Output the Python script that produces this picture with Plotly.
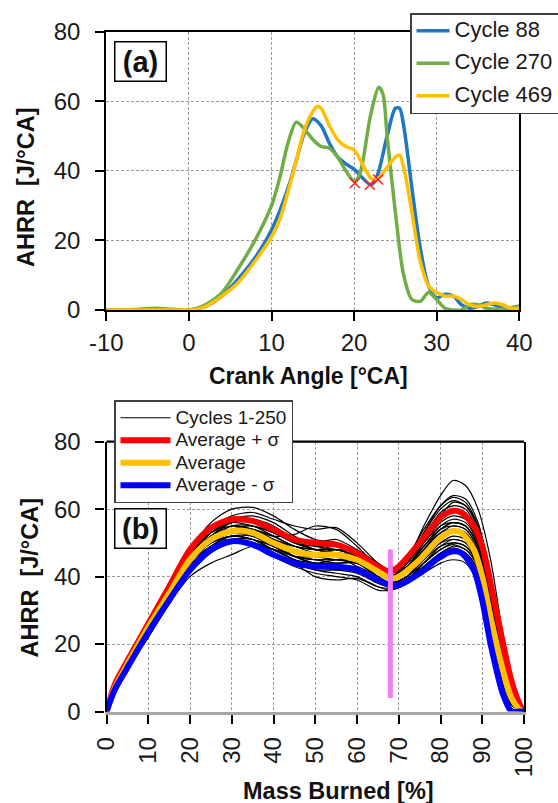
import plotly.graph_objects as go

# ---------------- Panel (a) data ----------------
c88_x = [-10, -5, 0, 1, 2, 4, 6, 8, 10, 12, 13, 14, 15, 16, 17, 18, 19, 20, 21, 22, 22.5, 23, 24, 25, 25.5, 26, 27, 28, 29, 30, 31, 32, 33, 34, 35, 36, 37, 38, 40]
c88_y = [0, 0, 0, 0.3, 1, 4, 9, 15, 23, 35, 43, 51, 55, 53, 48, 44, 42, 40.5, 38, 36, 37, 40, 50, 58, 58, 53, 35, 18, 7, 3.5, 4.5, 4, 1.5, 0.5, 1, 2, 1.5, 0.5, 0.5]

c270_x = [-10, -6, -4, -2, 0, 1, 2, 4, 6, 8, 10, 11, 12, 13, 14, 15, 16, 17, 18, 19, 20, 20.5, 21, 22, 23, 23.5, 24, 25, 26, 27, 28, 29, 30, 31, 32, 33, 34, 35, 36, 38, 40]
c270_y = [0, 0.2, 0.5, 0.2, 0, 0.5, 1.5, 5, 12, 20, 30, 38, 48, 54, 52, 49, 47, 46.5, 44, 40, 37, 38, 42, 56, 64, 62, 50, 28, 10, 3, 2.5, 5, 3, 0.5, 0, 0, 1.5, 1.5, 0.5, 0.3, 1.2]

c469_x = [-10, -5, 0, 1, 2, 4, 6, 8, 10, 11, 12, 13, 14, 15, 15.5, 16, 17, 18, 19, 20, 21, 22, 22.5, 23, 24, 25, 25.5, 26, 27, 28, 29, 30, 31, 32, 33, 34, 35, 36, 37, 38, 39, 40]
c469_y = [0, 0, 0, 0.2, 1, 4, 8, 14, 21, 26, 34, 43, 52, 57, 58.5, 58, 53, 49, 47, 46, 42, 38, 37.5, 38, 41, 44, 44.5, 41, 28, 14, 7, 5, 4, 4, 3, 1.5, 1, 1.5, 2, 1.5, 0.5, 0.5]

marks_x = [20.1, 21.9, 22.9]
marks_y = [36.5, 36.0, 37.5]

xa_ticks = [-10, 0, 10, 20, 30, 40]
xa_labels = ["-10", "0", "10", "20", "30", "40"]

# ---------------- Panel (b) data ----------------
mb_x = [0, 3, 6, 10, 15, 20, 25, 30, 35, 40, 45, 50, 55, 60, 65, 68, 72, 76, 80, 83, 86, 89, 92, 95, 97, 100]

cyc01 = [0, 10, 18, 26, 37, 48, 56, 60, 60.5, 58, 54, 51, 50, 47, 43, 41, 45, 55, 64, 68.5, 67, 60, 45, 22, 8, 0]
cyc02 = [0, 9, 16, 24, 35, 46, 54, 58, 59, 57, 55, 54, 54.5, 50, 44, 42, 45, 53, 61, 64, 63, 56, 40, 18, 5, 0]
cyc03 = [0, 10, 17, 25, 36, 47, 53, 55, 54, 52, 52.5, 55, 54, 49, 43, 41, 44, 51, 58, 62, 61, 55, 40, 18, 5, 0]
cyc04 = [0, 9, 16, 23, 33, 41, 47, 50, 50, 48, 45, 42, 41, 40, 37, 36, 38, 42, 45, 47, 46, 41, 28, 10, 2, 0]
cyc05 = [0, 8, 15, 22, 32, 40, 44, 46.5, 49, 48, 45, 43, 42, 41, 38, 37, 39, 43, 46, 48, 47, 42, 29, 11, 2, 0]
cyc06 = [0, 10, 17, 25, 35, 44, 49, 51, 50, 47, 44, 40, 39, 39.5, 37, 36.5, 38, 41, 44, 45, 44, 38, 25, 8, 1, 0]
cyc07 = [0, 10, 18, 26, 36, 46, 52, 54, 53, 51, 49, 48, 48, 46, 42, 40, 43, 49, 55, 57, 56, 50, 36, 15, 4, 0]
cyc08 = [0, 9, 16, 24, 34, 44, 50, 52, 51, 49, 46, 45, 44, 44, 41, 39, 41, 46, 50, 51, 50, 44, 30, 12, 3, 0]
cyc09 = [0, 10, 17, 26, 36, 46, 53, 56, 56, 53, 50, 48, 47, 45, 42, 40, 44, 51, 57, 59, 58, 51, 37, 16, 4, 0]
cyc10 = [0, 10, 17, 24, 34, 43, 49, 52, 52, 50, 46, 44, 45, 45, 40, 38, 40, 45, 49, 50, 49, 44, 31, 13, 3, 0]
cyc11 = [0, 9, 16, 24, 35, 45, 50, 51, 50, 48, 47, 47, 46, 43, 39, 38, 42, 48, 53, 55, 54, 48, 34, 14, 3, 0]
cyc12 = [0, 10, 17, 25, 35, 44, 51, 55, 55, 52, 49, 48, 49, 47, 43, 41, 44, 50, 55, 56, 55, 49, 35, 15, 4, 0]
cyc13 = [0, 9, 15, 22, 32, 41, 48, 50, 49, 46, 43, 41, 40, 39, 36, 36, 38, 43, 47, 49, 48, 43, 30, 11, 2, 0]
cyc14 = [0, 10, 18, 26, 37, 47, 54, 57, 57, 54, 51, 50, 51, 48, 44, 42, 46, 54, 61, 63.5, 62, 55, 41, 19, 6, 0]
cyc15 = [0, 9, 16, 24, 34, 43, 49, 52, 51, 48, 45, 44, 43, 43, 40, 38, 40, 44, 48, 50, 49, 43, 29, 11, 2, 0]
cyc16 = [0, 10, 17, 25, 36, 46, 52, 54, 52, 49, 46, 46, 47, 46, 42, 40, 42, 47, 52, 54, 53, 47, 33, 14, 3, 0]
cyc17 = [0, 9, 16, 24, 35, 45, 51, 53, 53, 51, 48, 46, 45, 44, 41, 40, 43, 49, 54, 55, 54, 48, 34, 14, 3, 0]
cyc18 = [0, 10, 17, 25, 35, 45, 51, 54, 54, 51, 48, 47, 47, 45, 41, 39, 41, 47, 52, 53, 52, 46, 32, 13, 3, 0]
cyc19 = [0, 9, 16, 23, 33, 42, 48, 51, 51, 49, 46, 44, 44, 44, 40, 38, 40, 45, 50, 52, 51, 45, 32, 13, 3, 0]
cyc20 = [0, 10, 17, 25, 36, 46, 53, 57, 58, 56, 52, 49, 48, 46, 42, 41, 45, 53, 60, 62.5, 61, 54, 39, 17, 5, 0]
cyc21 = [0, 9, 16, 24, 34, 44, 50, 53, 52, 49, 46, 45, 45, 44, 40, 38, 39, 43, 47, 48.5, 47, 42, 29, 11, 2, 0]
cyc22 = [0, 10, 17, 25, 35, 45, 51, 54, 55, 53, 50, 48, 47, 45, 42, 40, 43, 50, 56, 58, 57, 50, 36, 15, 4, 0]
cyc23 = [0, 9, 16, 23, 34, 44, 50, 52, 51, 48, 45, 43, 42, 42, 39, 37, 39, 44, 49, 51, 50, 44, 30, 12, 2, 0]
cyc24 = [0, 10, 17, 25, 35, 45, 52, 55, 54, 51, 48, 47, 48, 47, 43, 41, 43, 48, 53, 54, 53, 47, 33, 14, 3, 0]
cyc25 = [0, 9, 16, 24, 35, 44, 50, 53, 54, 52, 49, 47, 46, 45, 41, 39, 42, 48, 54, 56, 55, 49, 35, 14, 3, 0]
cyc26 = [0, 10, 17, 25, 35, 45, 52, 56, 57, 55, 51, 48, 47, 46, 42, 40, 44, 52, 59, 61, 60, 53, 38, 16, 4, 0]
cyc27 = [0, 9, 15, 23, 33, 43, 49, 51, 50, 47, 44, 42, 42, 42, 39, 37, 39, 44, 48, 49.5, 48, 43, 30, 11, 2, 0]
cyc28 = [0, 10, 17, 25, 35, 45, 51, 53, 53, 51, 49, 48, 48, 46, 42, 40, 43, 49, 54, 56, 55, 49, 35, 15, 4, 0]
cyc29 = [0, 9, 16, 24, 34, 43, 48, 50, 50, 48, 46, 45, 45, 44, 40, 38, 40, 46, 51, 53, 52, 46, 32, 12, 3, 0]
cyc30 = [0, 10, 18, 26, 36, 46, 53, 56, 55, 53, 50, 49, 49, 47, 43, 41, 44, 51, 57, 60, 59, 52, 37, 16, 4, 0]
cycles = [cyc01, cyc02, cyc03, cyc04, cyc05, cyc06, cyc07, cyc08,
          cyc09, cyc10, cyc11, cyc12, cyc13, cyc14, cyc15, cyc16,
          cyc17, cyc18, cyc19, cyc20, cyc21, cyc22, cyc23, cyc24,
          cyc25, cyc26, cyc27, cyc28, cyc29, cyc30]

avg_x = [0, 2, 5, 10, 15, 20, 25, 30, 35, 40, 45, 50, 55, 60, 65, 68, 70, 75, 80, 83, 85, 88, 90, 92, 95, 97, 99, 100]
avg_plus = [0, 8, 15, 26, 37, 48, 54.5, 57, 56.5, 54, 51, 50, 49.5, 47, 43, 41.5, 43, 50, 57.5, 59.5, 59, 55, 49, 38, 20, 9, 2, 0]
avg_mid = [0, 7, 14, 25, 35, 45, 51, 53.5, 53, 50, 47.5, 46.5, 46.5, 45, 41.5, 39.5, 40, 45, 51.5, 53.5, 53, 48, 40, 28, 12, 4, 0.5, 0]
avg_minus = [0, 6.5, 13, 23.5, 33, 42, 48, 50.5, 49.5, 46.5, 44, 43, 43, 42, 39, 37.5, 37.5, 41, 46, 47.5, 47, 42, 33, 20, 5, 0, 0, 0]

marker_x = [68, 68]
marker_y = [4, 48]

FONT = "Liberation Sans, Arial, sans-serif"
GRID = dict(showgrid=True, gridcolor="#9a9a9a", gridwidth=1, griddash="3px,2px", zeroline=False)

def big(t, s):
    return f"<span style='font-size:{s}px'>{t}</span>"

fig = go.Figure()

# panel a
for name, xs, ys, col in [("Cycle 88", c88_x, c88_y, "#1f78c1"),
                          ("Cycle 270", c270_x, c270_y, "#70ad47"),
                          ("Cycle 469", c469_x, c469_y, "#ffc000")]:
    fig.add_trace(go.Scatter(x=xs, y=ys, mode="lines", name=big(name, 22), legendgroup=name,
                             line=dict(color=col, width=3.5, shape="spline", smoothing=0.8),
                             xaxis="x", yaxis="y", legend="legend"))
fig.add_trace(go.Scatter(x=marks_x, y=marks_y, mode="markers", showlegend=False,
                         marker=dict(symbol="x-thin-open", size=10, color="#ff2020",
                                     line=dict(color="#ff2020", width=1.6)),
                         xaxis="x", yaxis="y"))

# panel b
for i, cy in enumerate(cycles):
    fig.add_trace(go.Scatter(x=mb_x, y=cy, mode="lines", name=big("Cycles 1-250", 19),
                             showlegend=(i == 0), legendgroup="cyc",
                             line=dict(color="black", width=1.2, shape="spline", smoothing=0.8),
                             xaxis="x2", yaxis="y2", legend="legend2"))
for name, ys, col in [("Average + σ", avg_plus, "#ff0000"),
                      ("Average", avg_mid, "#ffc000"),
                      ("Average - σ", avg_minus, "#0000ff")]:
    fig.add_trace(go.Scatter(x=avg_x, y=ys, mode="lines", name=big(name, 19),
                             line=dict(color=col, width=6, shape="spline", smoothing=0.8),
                             xaxis="x2", yaxis="y2", legend="legend2"))
fig.add_trace(go.Scatter(x=marker_x, y=marker_y, mode="lines", showlegend=False,
                         line=dict(color="#f47ef4", width=5), xaxis="x2", yaxis="y2"))

W, H = 558, 803
def px(v): return v / W
def py(v): return 1 - v / H

tickfont = dict(family=FONT, size=24, color="#1a1a1a")
axis_common = dict(ticks="outside", ticklen=9, tickwidth=1.8, tickcolor="black",
                   showline=True, linecolor="black", linewidth=2.2, mirror=True,
                   automargin=False, tickfont=tickfont, **GRID)

def ann(text, x, y, size, angle=0, **kw):
    return dict(text=text, x=px(x), y=py(y), xref="paper", yref="paper", showarrow=False,
                xanchor="center", yanchor="middle", textangle=angle,
                font=dict(family=FONT, size=size, color="#111"), **kw)

fig.update_layout(
    width=W, height=H, margin=dict(l=0, r=0, t=0, b=0, autoexpand=False),
    paper_bgcolor="white", plot_bgcolor="white",
    font=dict(family=FONT, color="#1a1a1a"),
    xaxis=dict(domain=[px(106.3), px(519.3)], anchor="y", range=[-10, 40],
               tickmode="array", tickvals=xa_ticks, ticktext=xa_labels,
               ticklabelstandoff=1, **axis_common),
    yaxis=dict(domain=[py(310), py(31.7)], anchor="x", range=[0, 80], dtick=20,
               ticklabelstandoff=10, **axis_common),
    xaxis2=dict(domain=[px(106.5), px(524)], anchor="y2", range=[0, 100], dtick=10, tickangle=-90,
                ticklabelstandoff=4,
                **{**axis_common, "mirror": False, "linecolor": "#a6a6a6", "linewidth": 3}),
    yaxis2=dict(domain=[py(711.5), py(441.7)], anchor="x2", range=[0, 80], dtick=20,
                ticklabelstandoff=10, **axis_common),
    legend=dict(x=px(410), y=py(13), xanchor="left", yanchor="top",
                bgcolor="white", bordercolor="#404040", borderwidth=1.5, itemwidth=33,
                font=dict(family=FONT, size=15, color="#1a1a1a"), tracegroupgap=10),
    legend2=dict(x=px(114), y=py(400), xanchor="left", yanchor="top",
                 bgcolor="white", bordercolor="#404040", borderwidth=1.5, itemwidth=50,
                 font=dict(family=FONT, size=15, color="#1a1a1a"), tracegroupgap=0),
    shapes=[dict(type="line", xref="x2 domain", yref="y2 domain", x0=0, x1=1, y0=1, y1=1,
                 line=dict(color="black", width=2.2))],
    annotations=[
        ann("<b>(a)</b>", 140.5, 61.2, 29, bordercolor="black", borderwidth=1.5,
            borderpad=3, bgcolor="white", width=44, height=32),
        ann("<b>(b)</b>", 140.5, 528, 29, bordercolor="black", borderwidth=1.5,
            borderpad=3, bgcolor="white", width=44, height=32),
        ann("<b>AHRR\u00a0 [J/°CA]</b>", 26, 187, 23.5, angle=-90),
        ann("<b>Crank Angle [°CA]</b>", 308, 376, 23),
        ann("<b>AHRR\u00a0 [J/°CA]</b>", 29, 577.5, 23.5, angle=-90),
        ann("<b>Mass Burned [%]</b>", 338, 791, 23.5),
    ],
)

fig.write_html("out.html")
